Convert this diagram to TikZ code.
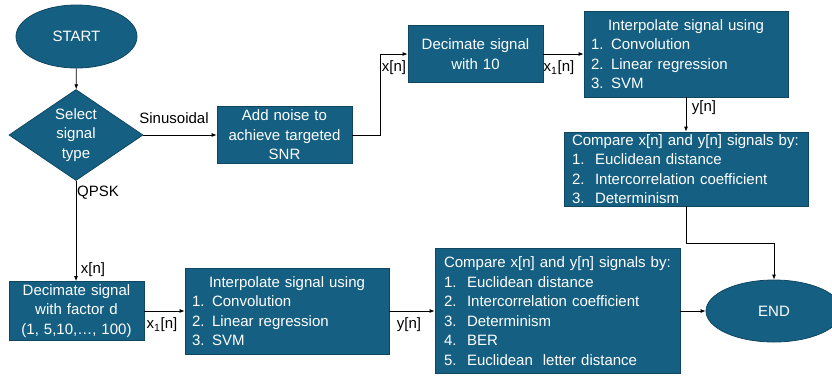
\documentclass[tikz,border=0pt]{standalone}
\usepackage{fontspec}
\setmainfont{Liberation Sans}
\usetikzlibrary{shapes.geometric,arrows.meta}
\definecolor{boxblue}{RGB}{21,96,130}
\definecolor{boxline}{RGB}{16,70,96}
\newcommand{\itm}[2]{\makebox[23pt][l]{#1}#2}

\begin{document}
\begin{tikzpicture}
    [x=1pt,y=-1pt,font=\fontsize{15}{19.5}\selectfont,
     blk/.style={rectangle,draw=boxline,line width=0.8pt,fill=boxblue,text=white,inner xsep=0pt,inner ysep=0pt},
     lst/.style={blk,align=left},
     term/.style={ellipse,draw=boxline,line width=0.8pt,fill=boxblue,text=white},
     arr/.style={-{Latex[length=5pt,width=4pt]},line width=0.8pt},
     lbl/.style={inner sep=0pt}]

    \useasboundingbox (0,0) rectangle (832,376);

    % top branch
    \node[term,minimum width=121pt,minimum height=63pt] (start) at (76.5,36.5) {START};
    \node[diamond,draw=boxline,line width=0.8pt,fill=boxblue,text=white,aspect=1.47,inner sep=0pt,
          minimum width=134pt,minimum height=91pt,align=center] (sel) at (76,135) {Select\\signal\\type};
    \node[blk,text width=135pt,minimum height=57pt,align=center] (noise) at (284.5,135) {Add noise to\\achieve targeted\\SNR};
    \node[blk,text width=135pt,minimum height=57pt,align=center] (dec1) at (475.5,54) {Decimate signal\\with 10};
    \node[lst,text width=190pt,inner xsep=7pt,minimum height=86pt] (intp1) at (686,54)
        {\hfill Interpolate signal using\hfill\null\\1. Convolution\\2. Linear regression\\3. SVM};
    \node[lst,text width=228pt,inner xsep=8pt,minimum height=74pt] (cmp1) at (686,169)
        {Compare x[n] and y[n] signals by:\\\itm{1.}{Euclidean distance}\\\itm{2.}{Intercorrelation coefficient}\\\itm{3.}{Determinism}};

    % bottom branch
    \node[blk,text width=135pt,minimum height=59pt,align=center] (dec2) at (76.5,311) {Decimate signal\\with factor d\\(1, 5,10,…, 100)};
    \node[lst,text width=190pt,inner xsep=7pt,minimum height=86pt] (intp2) at (287,311)
        {\hfill Interpolate signal using\hfill\null\\1. Convolution\\2. Linear regression\\3. SVM};
    \node[lst,text width=227pt,inner xsep=9pt,minimum height=125pt] (cmp2) at (557.5,311)
        {Compare x[n] and y[n] signals by:\\\itm{1.}{Euclidean distance}\\\itm{2.}{Intercorrelation coefficient}\\\itm{3.}{Determinism}\\\itm{4.}{BER}\\\itm{5.}{Euclidean\ \ letter distance}};
    \node[term,minimum width=136pt,minimum height=62pt] (stop) at (774,311) {END};

    % labels
    \node[lbl] (lsin) at (174,118) {Sinusoidal};
    \node[lbl] (lqpsk) at (98,193) {QPSK};
    \node[lbl] (lx1) at (394,68) {x[n]};
    \node[lbl] (lx2) at (559,68) {x\textsubscript{1}[n]};
    \node[lbl] (ly1) at (704,108) {y[n]};
    \node[lbl] (lx3) at (93,270) {x[n]};
    \node[lbl] (lx4) at (162,325) {x\textsubscript{1}[n]};
    \node[lbl] (ly2) at (409,325) {y[n]};

    \draw[arr] (start) -- (sel);
    \draw[arr] (sel) -- (noise);
    \draw[arr] (noise.east) -- ++(28,0) |- (dec1.west);
    \draw[arr] (dec1) -- (intp1);
    \draw[arr] (intp1) -- (cmp1);
    \draw[arr] (cmp1.south) -- ++(0,37) -| (stop.north);
    \draw[arr] (sel.south) -- (sel.south |- dec2.north);
    \draw[arr] (dec2) -- (intp2);
    \draw[arr] (intp2) -- (cmp2);
    \draw[arr] (cmp2) -- (stop);
\end{tikzpicture}
\end{document}
